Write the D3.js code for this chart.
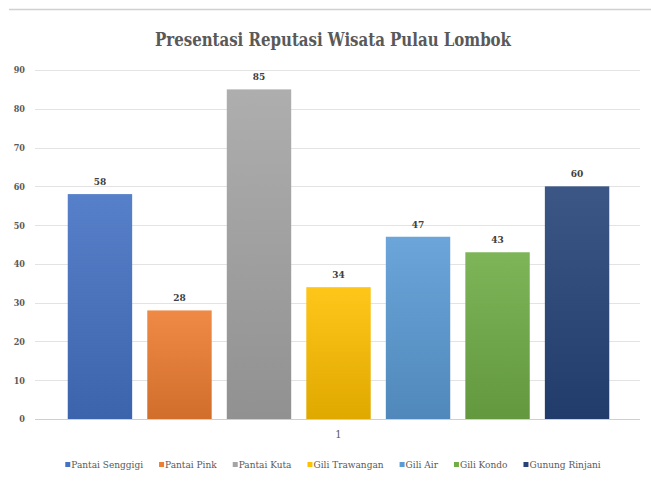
<!DOCTYPE html>
<html>
<head>
<meta charset="utf-8">
<script src="https://cdn.jsdelivr.net/npm/d3@7"></script>
<style>
  html, body { margin: 0; padding: 0; background: #fff; }
  svg text { font-family: "DejaVu Serif Condensed", "DejaVu Serif", "Liberation Serif", serif !important; }
</style>
</head>
<body>
<div id="chart"></div>
<script>
// chart data
const categories = ["1"];
const seriesNames = ["Pantai Senggigi", "Pantai Pink", "Pantai Kuta", "Gili Trawangan", "Gili Air", "Gili Kondo", "Gunung Rinjani"];
const seriesValues = [58, 28, 85, 34, 47, 43, 60];
const seriesColors = ["#4472C4", "#ED7D31", "#A5A5A5", "#FFC000", "#5B9BD5", "#70AD47", "#264478"];
const yTicks = [0, 10, 20, 30, 40, 50, 60, 70, 80, 90];

const width = 651, height = 484;
const margin = { top: 70, right: 11, bottom: 65, left: 35 };

const svg = d3.select("#chart").append("svg")
    .attr("width", width)
    .attr("height", height)
    .attr("viewBox", [0, 0, width, height]);

// faint frame line along the top
svg.append("line")
    .attr("x1", 9).attr("x2", width).attr("y1", 9.5).attr("y2", 9.5)
    .attr("stroke", "#d0d0d0").attr("stroke-width", 1.5);

const defs = svg.append("defs");
seriesColors.forEach((c, i) => {
    const g = defs.append("linearGradient")
        .attr("id", `grad-${i}`)
        .attr("x1", 0).attr("y1", 0).attr("x2", 0).attr("y2", 1);
    g.append("stop").attr("offset", "0%").attr("stop-color", d3.interpolateRgb(c, "#fff")(0.1));
    g.append("stop").attr("offset", "100%").attr("stop-color", d3.interpolateRgb(c, "#000")(0.12));
});

const y = d3.scaleLinear()
    .domain([0, 90])
    .range([height - margin.bottom, margin.top]);

const x0 = d3.scaleBand()
    .domain(categories)
    .range([margin.left, width - margin.right - 5])
    .paddingOuter(0.054)
    .align(0.56);

const x1 = d3.scaleBand()
    .domain(seriesNames)
    .range([0, x0.bandwidth()])
    .paddingInner(0.19);

// title
svg.append("text")
    .attr("x", 333).attr("y", 46)
    .attr("text-anchor", "middle")
    .attr("font-size", 19).attr("font-weight", "bold")
    .attr("fill", "#595959")
    .attr("textLength", 356).attr("lengthAdjust", "spacingAndGlyphs")
    .text("Presentasi Reputasi Wisata Pulau Lombok");

// gridlines
svg.append("g").attr("class", "grid")
    .selectAll("line").data(yTicks).join("line")
    .attr("x1", margin.left).attr("x2", width - margin.right)
    .attr("y1", d => Math.round(y(d)) + 0.5).attr("y2", d => Math.round(y(d)) + 0.5)
    .attr("stroke", d => d === 0 ? "#cfcfcf" : "#e3e3e3")
    .attr("stroke-width", 1);

// y axis labels
const yAxis = svg.append("g")
    .attr("transform", `translate(${margin.left - 10},0)`)
    .call(d3.axisLeft(y).tickValues(yTicks).tickSize(0).tickPadding(0));
yAxis.select(".domain").remove();
yAxis.selectAll("text")
    .attr("font-size", 9).attr("font-weight", "bold")
    .attr("fill", "#595959");

// category axis
const xAxis = svg.append("g")
    .attr("transform", `translate(0,${height - margin.bottom + 8})`)
    .call(d3.axisBottom(x0).tickSize(0).tickPadding(3));
xAxis.select(".domain").remove();
xAxis.selectAll("text")
    .attr("font-size", 11).attr("fill", "#595959");

// bars
const group = svg.append("g")
    .selectAll("g").data(categories).join("g")
    .attr("transform", d => `translate(${x0(d)},0)`);

const barData = seriesNames.map((name, i) => ({ name, value: seriesValues[i], i }));

group.selectAll("rect").data(barData).join("rect")
    .attr("x", d => x1(d.name))
    .attr("y", d => y(d.value))
    .attr("width", x1.bandwidth())
    .attr("height", d => y(0) - y(d.value))
    .attr("fill", d => `url(#grad-${d.i})`);

group.selectAll("text.val").data(barData).join("text")
    .attr("class", "val")
    .attr("x", d => x1(d.name) + x1.bandwidth() / 2)
    .attr("y", d => y(d.value) - 9)
    .attr("text-anchor", "middle")
    .attr("font-size", 10).attr("font-weight", "bold")
    .attr("fill", "#404040")
    .text(d => d.value);

// legend
const legend = svg.append("g");
const items = legend.selectAll("g").data(barData).join("g");
items.append("rect")
    .attr("width", 5).attr("height", 5)
    .attr("y", -6)
    .attr("fill", d => seriesColors[d.i]);
items.append("text")
    .attr("x", 6).attr("y", 0)
    .attr("font-size", 10)
    .attr("fill", "#595959")
    .text(d => d.name);

let cursor = 0;
items.each(function () {
    const w = d3.select(this).select("text").node().getComputedTextLength();
    d3.select(this).attr("transform", `translate(${cursor},0)`);
    cursor += 6 + w + 16;
});
const legendWidth = cursor - 16;
legend.attr("transform", `translate(${333 - legendWidth / 2},468)`);
</script>
</body>
</html>
